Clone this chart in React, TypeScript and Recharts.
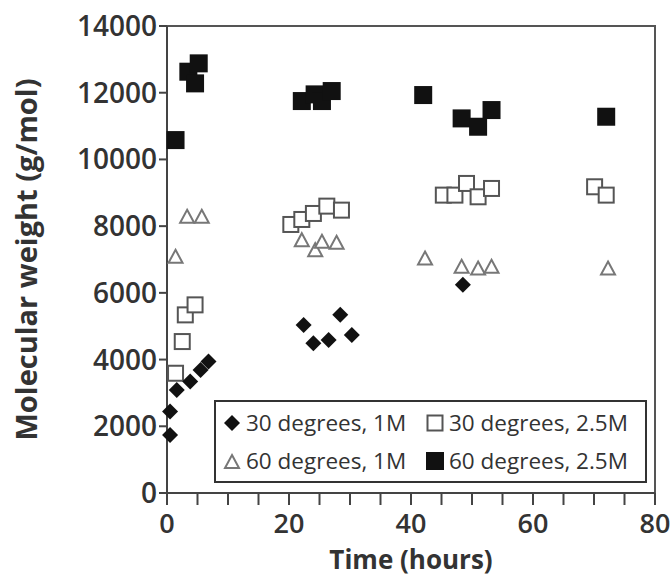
import {
  ScatterChart,
  Scatter,
  XAxis,
  YAxis,
  ReferenceArea,
} from 'recharts';

// 30 degrees, 1M (filled diamonds)
const hours30_1M = [0.5, 0.5, 1.6, 3.8, 5.5, 6.8, 22.4, 24, 26.5, 28.4, 30.3, 48.5];
const mw30_1M = [1740, 2440, 3090, 3340, 3690, 3940, 5040, 4490, 4590, 5340, 4740, 6240];

// 30 degrees, 2.5M (open squares)
const hours30_25M = [1.4, 2.5, 3, 4.6, 20.3, 22.1, 24, 26.2, 28.6, 45.3, 47.2, 49.1, 51, 53.2, 70.1, 72];
const mw30_25M = [3590, 4540, 5340, 5640, 8050, 8200, 8380, 8600, 8480, 8930, 8930, 9280, 8880, 9130, 9180, 8930];

// 60 degrees, 1M (open triangles)
const hours60_1M = [1.4, 3.3, 5.7, 22.1, 24.3, 25.4, 27.8, 42.3, 48.3, 51, 53.2, 72.3];
const mw60_1M = [7080, 8280, 8280, 7580, 7280, 7530, 7500, 7030, 6780, 6730, 6780, 6730];

// 60 degrees, 2.5M (filled squares)
const hours60_25M = [1.4, 3.5, 4.6, 5.2, 22.1, 24.2, 25.4, 27, 42, 48.3, 51, 53.2, 72];
const mw60_25M = [10580, 12630, 12280, 12880, 11750, 11950, 11750, 12050, 11930, 11230, 10980, 11480, 11280];

const xTicks = [0, 5, 10, 15, 20, 25, 30, 35, 40, 45, 50, 55, 60, 65, 70, 75, 80];
const xLabels = [0, 20, 40, 60, 80];
const yTicks = [0, 2000, 4000, 6000, 8000, 10000, 12000, 14000];

const toPoints = (xs: number[], ys: number[]) => xs.map((x, i) => ({ x, y: ys[i] }));

const FONT = '"Open Sans", sans-serif';
const TEXT = '#333';

const Diamond = ({ cx, cy }: any) => (
  <path d={`M${cx},${cy - 8} L${cx + 8},${cy} L${cx},${cy + 8} L${cx - 8},${cy} Z`} fill="#111" />
);
const OpenSquare = ({ cx, cy }: any) => (
  <rect x={cx - 7.5} y={cy - 7.5} width={15} height={15} fill="#fff" stroke="#555" strokeWidth={2} />
);
const FilledSquare = ({ cx, cy }: any) => (
  <rect x={cx - 9} y={cy - 9} width={18} height={18} fill="#111" />
);
const Triangle = ({ cx, cy }: any) => (
  <path d={`M${cx},${cy - 7} L${cx + 7},${cy + 6} L${cx - 7},${cy + 6} Z`} fill="#fff" stroke="#777" strokeWidth={2} />
);

function LegendItem({ icon, text }: { icon: React.ReactNode; text: string }) {
  return (
    <div style={{ display: 'flex', alignItems: 'center', height: 38 }}>
      <svg width={20} height={20} style={{ marginRight: 4 }}>
        {icon}
      </svg>
      <span>{text}</span>
    </div>
  );
}

export default function App() {
  return (
    <div style={{ position: 'absolute', left: 0, top: 0, width: 672, height: 576, background: '#fff' }}>
      <ScatterChart width={672} height={576} margin={{ top: 26, right: 17, bottom: 0, left: 0 }}>
        <XAxis
          type="number"
          dataKey="x"
          domain={[0, 80]}
          ticks={xTicks}
          interval={0}
          tickFormatter={(v: number) => (xLabels.includes(v) ? String(v) : '')}
          axisLine={{ stroke: '#444', strokeWidth: 2 }}
          tickLine={{ stroke: '#444', strokeWidth: 2 }}
          tickSize={12}
          tickMargin={9}
          tick={{ fontSize: 27, fontWeight: 600, fill: TEXT, fontFamily: FONT }}
          height={83}
          label={{
            value: 'Time (hours)',
            position: 'insideBottom',
            offset: 7,
            style: { fontSize: 26, fontWeight: 700, fill: TEXT, fontFamily: FONT },
          }}
        />
        <YAxis
          type="number"
          dataKey="y"
          domain={[0, 14000]}
          ticks={yTicks}
          interval={0}
          axisLine={{ stroke: '#444', strokeWidth: 2 }}
          tickLine={{ stroke: '#444', strokeWidth: 2 }}
          tickSize={8}
          width={167}
          tick={{ fontSize: 28, fontWeight: 600, fill: TEXT, fontFamily: FONT }}
          label={{
            value: 'Molecular weight (g/mol)',
            angle: -90,
            position: 'insideLeft',
            offset: 27,
            style: { textAnchor: 'middle', fontSize: 29, fontWeight: 700, fill: TEXT, fontFamily: FONT },
          }}
        />
        <ReferenceArea x1={0} x2={80} y1={0} y2={14000} fill="none" stroke="#555" strokeWidth={2} />
        <Scatter data={toPoints(hours60_1M, mw60_1M)} shape={Triangle} isAnimationActive={false} />
        <Scatter data={toPoints(hours30_25M, mw30_25M)} shape={OpenSquare} isAnimationActive={false} />
        <Scatter data={toPoints(hours60_25M, mw60_25M)} shape={FilledSquare} isAnimationActive={false} />
        <Scatter data={toPoints(hours30_1M, mw30_1M)} shape={Diamond} isAnimationActive={false} />
      </ScatterChart>
      <div
        style={{
          position: 'absolute',
          left: 214,
          top: 400,
          width: 433,
          height: 83,
          boxSizing: 'border-box',
          border: '2px solid #333',
          background: '#fff',
          fontFamily: FONT,
          fontSize: 22.5,
          color: TEXT,
          display: 'grid',
          gridTemplateColumns: '203px 222px',
          alignContent: 'center',
          paddingLeft: 6,
          whiteSpace: 'nowrap',
        }}
      >
        <LegendItem icon={<Diamond cx={10} cy={10} />} text="30 degrees, 1M" />
        <LegendItem icon={<OpenSquare cx={10} cy={10} />} text="30 degrees, 2.5M" />
        <LegendItem icon={<Triangle cx={10} cy={11} />} text="60 degrees, 1M" />
        <LegendItem icon={<FilledSquare cx={10} cy={10} />} text="60 degrees, 2.5M" />
      </div>
    </div>
  );
}
